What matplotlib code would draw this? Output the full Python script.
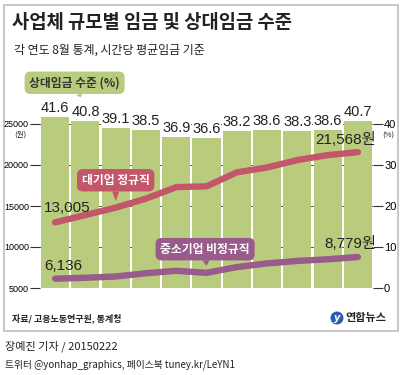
import matplotlib
matplotlib.use("Agg")
import matplotlib.pyplot as plt
from matplotlib.patches import Rectangle, Ellipse

# ---- data ----
years = ["2004년", "'05", "'06", "'07", "'08", "'09", "'10", "'11", "'12", "'13", "'14"]
ratio = [41.6, 40.8, 39.1, 38.5, 36.9, 36.6, 38.2, 38.6, 38.3, 38.6, 40.7]
large_regular = [13005, 13900, 14800, 15900, 17300, 17400, 19100, 19700, 20600, 21200, 21568]
small_irregular = [6136, 6250, 6400, 6800, 7100, 6850, 7550, 8000, 8300, 8500, 8779]
left_ticks = [5000, 10000, 15000, 20000, 25000]
right_ticks = [0, 10, 20, 30, 40]

KR = ["Noto Sans CJK KR", "DejaVu Sans"]
NUM = ["Liberation Sans Narrow", "Liberation Sans", "Noto Sans CJK KR"]
plt.rcParams["font.family"] = KR

GREEN = "#b9cc7e"
RED = "#c4566c"
PURPLE = "#995a8c"
DARK = "#222222"

W, H = 404, 375
fig = plt.figure(figsize=(W / 100, H / 100), dpi=100)
fig.patch.set_facecolor("white")

# outer frame
fig.add_artist(Rectangle((4 / W, 1 - 331 / H), 394 / W, 326 / H, transform=fig.transFigure,
                         fill=False, edgecolor="#c4c4c4", lw=1.3))

fig.text(12 / W, 1 - 22 / H, "사업체 규모별 임금 및 상대임금 수준", fontsize=13.5,
         fontweight="bold", color=DARK, va="center", ha="left")
fig.text(14 / W, 1 - 50 / H, "각 연도 8월 통계, 시간당 평균임금 기준", fontsize=8.6,
         color=DARK, va="center", ha="left")

# axes geometry (pixels)
ax_left, ax_right, ax_bottom, ax_top = 40, 373, 288, 107.6
ax = fig.add_axes([ax_left / W, 1 - ax_bottom / H, (ax_right - ax_left) / W, (ax_bottom - ax_top) / H])
ax2 = ax.twinx()

ylo, yhi = 5000, 27000
ax.set_ylim(ylo, yhi)
ax2.set_ylim(0, (yhi - ylo) / 500)
ax.set_xlim(-0.5, len(years) - 0.5)

x = list(range(len(years)))

# bars on the percentage axis
ax2.set_axisbelow(True)
ax2.grid(axis="y", color="#555555", lw=0.7)
ax2.bar(x, ratio, width=0.93, color=GREEN, zorder=2)
for xi, r in zip(x, ratio):
    ax2.annotate(f"{r}", (xi, r), xytext=(0, 1.5), textcoords="offset points",
                 ha="center", va="bottom", fontsize=10.5, family=NUM, color=DARK,
                 bbox=dict(boxstyle="square,pad=0.05", fc="white", ec="none"), zorder=3)

# lines on the wage axis (drawn on top)
ax.set_zorder(ax2.get_zorder() + 1)
ax.patch.set_visible(False)
ax.plot(x, large_regular, color=RED, lw=4.6, solid_capstyle="round", zorder=3)
ax.plot(x, small_irregular, color=PURPLE, lw=4.6, solid_capstyle="round", zorder=3)

ax.annotate(f"{large_regular[0]:,}", (0, large_regular[0]), xytext=(-8, 5), textcoords="offset points",
            ha="left", va="bottom", fontsize=11, family=NUM, color=DARK)
ax.annotate(f"{small_irregular[0]:,}", (0, small_irregular[0]), xytext=(-8, 4), textcoords="offset points",
            ha="left", va="bottom", fontsize=11, family=NUM, color=DARK)
ax.annotate(f"{large_regular[-1]:,}원", (10, large_regular[-1]), xytext=(13, 4), textcoords="offset points",
            ha="right", va="bottom", fontsize=11, family=NUM, color=DARK)
ax.annotate(f"{small_irregular[-1]:,}원", (10, small_irregular[-1]), xytext=(13, 4), textcoords="offset points",
            ha="right", va="bottom", fontsize=11, family=NUM, color=DARK)

# series label bubbles
def bubble(axis, text, tip, off, fc, tc, fs=8.5):
    axis.annotate(text, tip, xytext=off, textcoords="offset points", ha="center", va="center",
                  fontsize=fs, fontweight="bold", color=tc,
                  bbox=dict(boxstyle="round,pad=0.4,rounding_size=0.5", fc=fc, ec="none"),
                  arrowprops=dict(arrowstyle="wedge,tail_width=0.6,shrink_factor=0.5", fc=fc, ec="none",
                                  shrinkA=0, shrinkB=0),
                  annotation_clip=False, zorder=5)

bubble(ax, "대기업 정규직", (2.0, 15600), (0, 15), RED, "white")
bubble(ax, "중소기업 비정규직", (5.0, 7700), (-1, 12), PURPLE, "white")
bubble(ax2, "상대임금 수준 (%)", (0.85, 46.5), (-4.5, 10.5), GREEN, "#333333", fs=8.5)

# axes styling
for s in ax.spines.values():
    s.set_visible(False)
for s in ax2.spines.values():
    s.set_visible(False)
ax.set_xticks(x)
ax.set_xticklabels(years, fontsize=9.5, color=DARK)
ax.tick_params(axis="x", length=0, pad=5)
ax.set_yticks(left_ticks)
ax.set_yticklabels([f"{t}" for t in left_ticks], fontsize=6.5, family=NUM)
ax.tick_params(axis="y", length=7, width=0.8, color="#333333", pad=1)
ax2.set_yticks(right_ticks)
ax2.set_yticklabels([f"{t}" for t in right_ticks], fontsize=8, family=NUM)
ax2.tick_params(axis="y", length=7, width=0.8, color="#333333", pad=1)
ax2.set_xticks([])

fig.text(20 / W, 1 - 135 / H, "(원)", fontsize=5.5, color=DARK, ha="center", va="center")
fig.text(388 / W, 1 - 136 / H, "(%)", fontsize=5.5, color=DARK, ha="center", va="center")

# footer inside frame
fig.text(12 / W, 1 - 318 / H, "자료/ 고용노동연구원, 통계청", fontsize=6.5, fontweight="bold",
         fontstyle="italic", color=DARK, ha="left", va="center")
fig.add_artist(Ellipse((337 / W, 1 - 318 / H), 13 / W, 13 / H, transform=fig.transFigure,
                       fc="#2a5fb0", ec="none"))
fig.text(337 / W, 1 - 318 / H, "y", fontsize=7, fontweight="bold", fontstyle="italic", color="white",
         ha="center", va="center", family=["DejaVu Sans"])
fig.text(345 / W, 1 - 318 / H, "연합뉴스", fontsize=8, fontweight="bold", color=DARK, ha="left", va="center")

# credits below frame
fig.text(5 / W, 1 - 346 / H, "장예진 기자 / 20150222", fontsize=8, color=DARK, ha="left", va="center")
fig.text(5 / W, 1 - 365 / H, "트위터 @yonhap_graphics, 페이스북 tuney.kr/LeYN1", fontsize=7,
         color=DARK, ha="left", va="center")

fig.savefig("out.png", dpi=100)
